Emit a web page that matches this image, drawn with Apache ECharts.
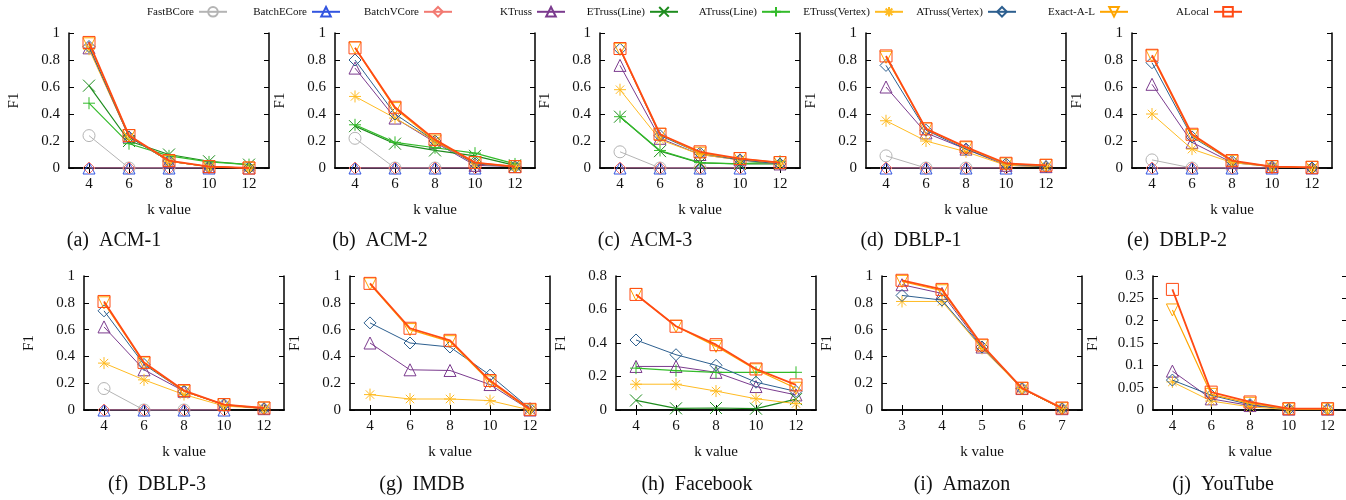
<!DOCTYPE html>
<html><head><meta charset="utf-8">
<script src="https://cdn.jsdelivr.net/npm/echarts@6/dist/echarts.min.js"></script>
<style>html,body{margin:0;padding:0;background:#fff}#c{width:1346px;height:500px}</style>
</head><body><div id="c"></div><script>
// ---------- DATA ----------
const seriesNames = ['FastBCore','BatchECore','BatchVCore','KTruss','ETruss(Line)','ATruss(Line)','ETruss(Vertex)','ATruss(Vertex)','Exact-A-L','ALocal'];
const kEven = ['4','6','8','10','12'];
const kAmazon = ['3','4','5','6','7'];
const captions = ['(a)  ACM-1','(b)  ACM-2','(c)  ACM-3','(d)  DBLP-1','(e)  DBLP-2','(f)  DBLP-3','(g)  IMDB','(h)  Facebook','(i)  Amazon','(j)  YouTube'];
const yMaxes = [1,1,1,1,1,1,1,0.8,1,0.3];
const yIntervals = [0.2,0.2,0.2,0.2,0.2,0.2,0.2,0.2,0.2,0.05];

// values per panel, in seriesNames order (null = series not in panel)
const ACM1 = [
  [0.24,0,0,null,null],[0,0,0,0,null],[0,0,0,0,null],
  [0.89,0.23,0.05,0.01,0],[0.61,0.20,0.10,0.05,0.025],[0.48,0.18,0.09,0.045,0.025],
  [0.88,0.23,0.05,0.01,0],[0.90,0.23,0.05,0.01,0],[0.92,0.24,0.05,0.01,0],[0.93,0.24,0.055,0.01,0]];
const ACM2 = [
  [0.22,0,0,null,null],[0,0,0,0,null],[0,0,0,0,null],
  [0.74,0.37,0.19,0.02,0.01],[0.31,0.18,0.13,0.09,0.02],[0.32,0.19,0.15,0.11,0.03],
  [0.53,0.37,0.20,0.03,0.01],[0.80,0.40,0.20,0.03,0.01],[0.89,0.44,0.20,0.04,0.01],[0.89,0.45,0.21,0.04,0.01]];
const ACM3 = [
  [0.12,0,0,null,null],[0,0,0,0,null],[0,0,0,0,null],
  [0.76,0.22,0.10,0.06,0.03],[0.38,0.125,0.037,0.03,0.03],[0.38,0.13,0.04,0.03,0.05],
  [0.58,0.21,0.10,0.06,0.03],[0.88,0.24,0.11,0.06,0.03],[0.88,0.25,0.11,0.07,0.04],[0.885,0.25,0.12,0.07,0.04]];
const DBLP1 = [
  [0.09,0,0,null,null],[0,0,0,0,null],[0,0,0,0,null],
  [0.60,0.26,0.14,0.02,0.01],null,null,
  [0.35,0.20,0.12,0.02,0.01],[0.76,0.28,0.14,0.03,0.01],[0.82,0.29,0.15,0.03,0.02],[0.83,0.29,0.155,0.035,0.02]];
const DBLP2 = [
  [0.06,0,0,null,null],[0,0,0,0,null],[0,0,0,0,null],
  [0.62,0.19,0.04,0.01,0],null,null,
  [0.40,0.14,0.04,0.01,0],[0.78,0.23,0.05,0.01,0],[0.83,0.24,0.05,0.01,0.005],[0.835,0.25,0.055,0.01,0.005]];
const DBLP3 = [
  [0.16,0,0,null,null],[0,0,0,0,null],[0,0,0,0,null],
  [0.62,0.30,0.14,0.04,0.01],null,null,
  [0.35,0.225,0.115,0.03,0.01],[0.74,0.34,0.14,0.04,0.01],[0.80,0.35,0.14,0.04,0.015],[0.81,0.355,0.145,0.04,0.015]];
const IMDB = [
  null,null,null,
  [0.50,0.30,0.295,0.19,0],null,null,
  [0.115,0.082,0.082,0.07,0],[0.65,0.50,0.47,0.26,0.01],[0.94,0.60,0.51,0.21,0],[0.945,0.61,0.52,0.22,0.005]];
const Facebook = [
  null,null,null,
  [0.26,0.26,0.225,0.14,0.09],[0.057,0.01,0.012,0.008,0.065],[0.25,0.235,0.225,0.225,0.225],
  [0.154,0.154,0.113,0.067,0.038],[0.418,0.33,0.267,0.166,0.111],[0.69,0.50,0.38,0.24,0.13],[0.69,0.50,0.39,0.245,0.15]];
const Amazon = [
  null,null,null,
  [0.935,0.87,0.47,0.16,0.01],null,null,
  [0.81,0.81,0.46,0.16,0.01],[0.855,0.82,0.47,0.16,0.01],[0.96,0.89,0.48,0.16,0.01],[0.968,0.90,0.485,0.163,0.015]];
const YouTube = [
  null,null,null,
  [0.087,0.025,0.01,0.002,0.002],null,null,
  [0.063,0.02,0.007,0.001,0.001],[0.067,0.033,0.012,0.002,0.002],[0.224,0.035,0.015,0.002,0.002],[0.27,0.04,0.018,0.003,0.003]];
const panelValues = [ACM1,ACM2,ACM3,DBLP1,DBLP2,DBLP3,IMDB,Facebook,Amazon,YouTube];
const panelCats = [kEven,kEven,kEven,kEven,kEven,kEven,kEven,kEven,kAmazon,kEven];

// ---------- LAYOUT / STYLE ----------
const FONT = 'Liberation Serif';
const gridLefts = [69,335,600,866,1132, 84,350,616,882,1153];
const gridWidths = [200,200,200,200,200, 200,200,200,200,194];
const rowTop = [33,276], rowH = [135,134];
const capY = [241,485];
const capX = [114,380,645,911,1177, 157,422,697,962,1223];
const legendRight = [1118,1005,893,780,667,555,442,329,217,103];
const styleMap = [
  {c:'#b4b4b4', sym:'circle', w:1},
  {c:'#3355e0', sym:'triangle', w:1},
  {c:'#f27a72', sym:'diamond', w:1},
  {c:'#7b3b8e', sym:'triangle', w:1},
  {c:'#1e8c1e', sym:'path://M0,0L10,10M10,0L0,10', w:1.2},
  {c:'#33bb2a', sym:'path://M5,0L5,10M0,5L10,5', w:1.2},
  {c:'#ffbb22', sym:'path://M5,0L5,10M0,5L10,5M1.5,1.5L8.5,8.5M8.5,1.5L1.5,8.5', w:1},
  {c:'#2d5f8f', sym:'diamond', w:1},
  {c:'#ffa500', sym:'path://M0,0L10,0L5,9Z', w:1.2},
  {c:'#ff4a14', sym:'rect', w:1.8}
];

const grids = [], xAxes = [], yAxes = [], series = [], graphics = [], legends = [];
const axisLineS = {show:true, lineStyle:{color:'#000', width:1.5}};
const tickS = {show:true, inside:true, length:5, lineStyle:{color:'#000', width:1}};
panelValues.forEach((vals, i) => {
  const row = i < 5 ? 0 : 1;
  grids.push({left:gridLefts[i], top:rowTop[row], width:gridWidths[i], height:rowH[row], outerBoundsMode:'none', containLabel:false});
  xAxes.push({type:'category', gridIndex:i, data:panelCats[i], boundaryGap:true, position:'bottom',
    axisLine:axisLineS, axisTick:Object.assign({alignWithLabel:true}, tickS),
    axisLabel:{color:'#111', fontFamily:FONT, fontSize:15, margin:9},
    name:'k value', nameLocation:'middle', nameGap:35, nameTextStyle:{color:'#111', fontFamily:FONT, fontSize:15},
    splitLine:{show:false}});
  xAxes.push({type:'category', gridIndex:i, data:panelCats[i], boundaryGap:true, position:'top',
    axisLine:axisLineS, axisTick:Object.assign({alignWithLabel:true}, tickS), axisLabel:{show:false}, splitLine:{show:false}});
  yAxes.push({type:'value', gridIndex:i, min:0, max:yMaxes[i], interval:yIntervals[i], position:'left',
    axisLine:axisLineS, axisTick:tickS,
    axisLabel:{color:'#111', fontFamily:FONT, fontSize:15, margin:9},
    name:'F1', nameLocation:'middle', nameRotate:90, nameGap:(i===9?52:47), nameTextStyle:{color:'#111', fontFamily:FONT, fontSize:15},
    splitLine:{show:false}});
  yAxes.push({type:'value', gridIndex:i, min:0, max:yMaxes[i], interval:yIntervals[i], position:'right',
    axisLine:axisLineS, axisTick:tickS, axisLabel:{show:false}, splitLine:{show:false}});
  vals.forEach((d, s) => {
    if (!d) return;
    const st = styleMap[s];
    series.push({type:'line', name:seriesNames[s], xAxisIndex:2*i, yAxisIndex:2*i, data:d,
      symbol:st.sym, symbolSize:12, showAllSymbol:true, z:2+s,
      lineStyle:{color:st.c, width:st.w},
      itemStyle:{color:'rgba(0,0,0,0)', borderColor:st.c, borderWidth:1},
      emphasis:{disabled:true}, silent:true});
  });
  graphics.push({type:'text', x:capX[i], y:capY[row], style:{text:captions[i], font:'20px "Liberation Serif"', fill:'#111', textAlign:'center', textVerticalAlign:'middle', align:'center', verticalAlign:'middle'}});
});
seriesNames.forEach((n, s) => {
  legends.push({data:[n], right:legendRight[s], top:6, align:'right', padding:0, itemWidth:28, itemHeight:12,
    textStyle:{fontFamily:FONT, fontSize:11, color:'#111'}, selectedMode:false});
});

const chart = echarts.init(document.getElementById('c'), null, {renderer:'canvas'});
chart.setOption({
  backgroundColor:'#fff', animation:false,
  grid:grids, xAxis:xAxes, yAxis:yAxes, series:series, legend:legends, graphic:graphics
});
</script></body></html>
